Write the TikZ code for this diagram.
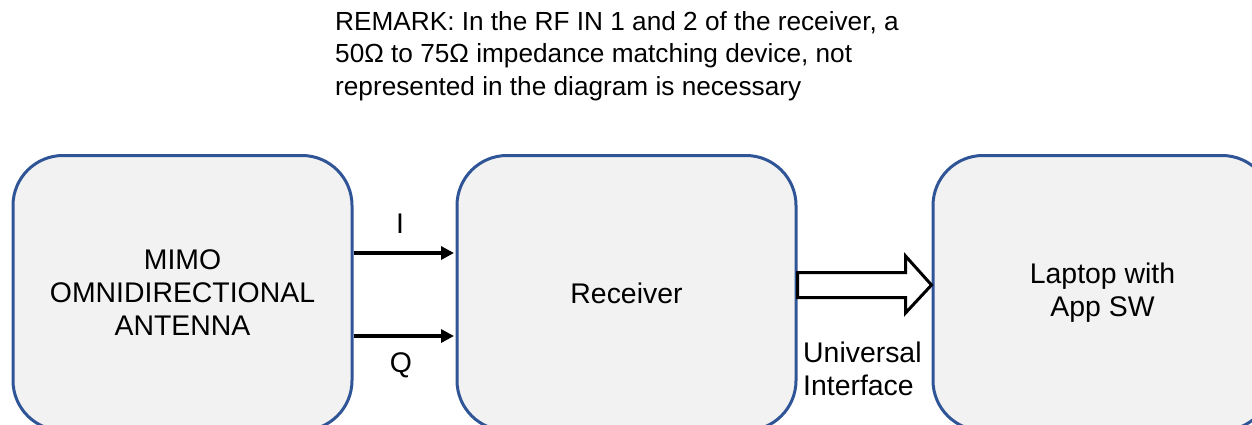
\documentclass[tikz,border=0pt]{standalone}
\usepackage{fontspec}
\setmainfont{Liberation Sans}
\usetikzlibrary{arrows.meta,calc}
\definecolor{boxfill}{RGB}{242,242,242}
\definecolor{boxline}{RGB}{47,85,151}
\tikzset{
  block/.style={draw=boxline, fill=boxfill, line width=3pt, rounded corners=50pt,
    minimum width=339pt, minimum height=275pt, inner sep=0pt, align=center,
    font=\fontsize{28.4}{33}\selectfont},
  lbl/.style={font=\fontsize{28.4}{33}\selectfont, inner sep=0pt},
  note/.style={font=\fontsize{26.2}{32.5}\selectfont, inner sep=0pt, align=left},
  sig/.style={line width=4pt, -{Triangle[length=13pt,width=13pt]}, shorten >=1.5pt},
  bus/.style={draw=black, fill=white, line width=3pt, line join=miter}
}
\begin{document}
\begin{tikzpicture}[x=1pt,y=-1pt]
  \useasboundingbox (0,0) rectangle (1252,424);
  \clip (0,0) rectangle (1252,424);
  % blocks
  \node[block] (ant) at (182.5,293) {MIMO\\OMNIDIRECTIONAL\\ANTENNA};
  \node[block] (rx)  at (626.5,293) {Receiver};
  \node[block] (pc)  at (1102.5,293) {Laptop with\\App SW};
  % I and Q signal lines
  \draw[sig] ($(ant.east)+(0,-40)$) -- ($(rx.west)+(0,-40)$);
  \draw[sig] ($(ant.east)+(0,43)$) -- ($(rx.west)+(0,43)$);
  \node[lbl] (ilbl) at (400,223.5) {I};
  \node[lbl] (qlbl) at (401,365.5) {Q};
  % block arrow to the laptop
  \coordinate (us) at ($(rx.east)+(0,-8)$);
  \coordinate (ut) at ($(pc.west)+(0,-8)$);
  \draw[bus] ($(us)+(0,-12.5)$) -- ($(ut)+(-26,-12.5)$) -- ($(ut)+(-26,-29)$)
    -- (ut) -- ($(ut)+(-26,28)$) -- ($(ut)+(-26,12.5)$) -- ($(us)+(0,12.5)$) -- cycle;
  \node[lbl, align=left, anchor=west] (uif) at (803,369) {Universal\\Interface};
  % note above the chain
  \node[note, anchor=north west] (remark) at (335,11)
    {REMARK: In the RF IN 1 and 2 of the receiver, a\\
     50Ω to 75Ω impedance matching device, not\\
     represented in the diagram is necessary};
\end{tikzpicture}
\end{document}
